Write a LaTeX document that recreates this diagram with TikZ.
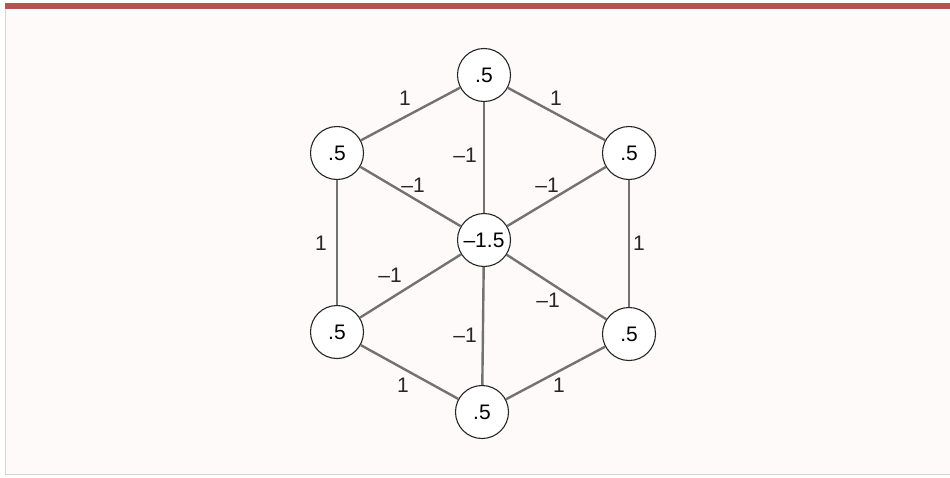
\documentclass[tikz,border=0pt]{standalone}
\usepackage{fontspec}
\setmainfont{Liberation Sans}
\definecolor{barred}{HTML}{B4534F}
\definecolor{bgpink}{HTML}{FFFAFA}
\definecolor{edgegray}{HTML}{727272}
\definecolor{framegray}{HTML}{D8D4D4}
\begin{document}
\begin{tikzpicture}[x=1pt,y=-1pt,
  vnode/.style={circle,draw=black!85,line width=1.1pt,fill=white,minimum size=53pt,inner sep=0pt,font=\fontsize{21}{23}\selectfont},
  edge/.style={draw=edgegray,line width=2.4pt},
  wlab/.style={font=\fontsize{21}{23}\selectfont,text=black!85,inner sep=1pt}]
\useasboundingbox (0,0) rectangle (950,477);
\fill[white] (0,0) rectangle (950,477);
\fill[bgpink] (5,6) rectangle (950,474);
\draw[framegray,line width=0.8pt] (5,8) -- (5,474) -- (950,474);
\fill[barred] (5,3) rectangle (950,8.5);
% nodes
\node[vnode] (t)  at (484,75)  {.5};
\node[vnode] (ul) at (337,153) {.5};
\node[vnode] (ur) at (629,153) {.5};
\node[vnode] (c)  at (484,240) {–1.5};
\node[vnode] (ll) at (337,332) {.5};
\node[vnode] (lr) at (629,334) {.5};
\node[vnode] (b)  at (482,412) {.5};
% edges
\path[edge] (t) -- (ul);
\path[edge] (t) -- (ur);
\path[edge] (t) -- (c);
\path[edge] (ul) -- (c);
\path[edge] (ur) -- (c);
\path[edge] (ul) -- (ll);
\path[edge] (ur) -- (lr);
\path[edge] (ll) -- (c);
\path[edge] (lr) -- (c);
\path[edge] (b) -- (c);
\path[edge] (ll) -- (b);
\path[edge] (lr) -- (b);
% labels
\node[wlab] (l1)  at (405,98)  {1};
\node[wlab] (l2)  at (556,98)  {1};
\node[wlab] (l3)  at (465,155) {–1};
\node[wlab] (l4)  at (413,185) {–1};
\node[wlab] (l5)  at (547,185) {–1};
\node[wlab] (l6)  at (321,243) {1};
\node[wlab] (l7)  at (639,243) {1};
\node[wlab] (l8)  at (390,275) {–1};
\node[wlab] (l9)  at (548,300) {–1};
\node[wlab] (l10) at (465,335) {–1};
\node[wlab] (l11) at (403,385) {1};
\node[wlab] (l12) at (559,385) {1};
\end{tikzpicture}
\end{document}
